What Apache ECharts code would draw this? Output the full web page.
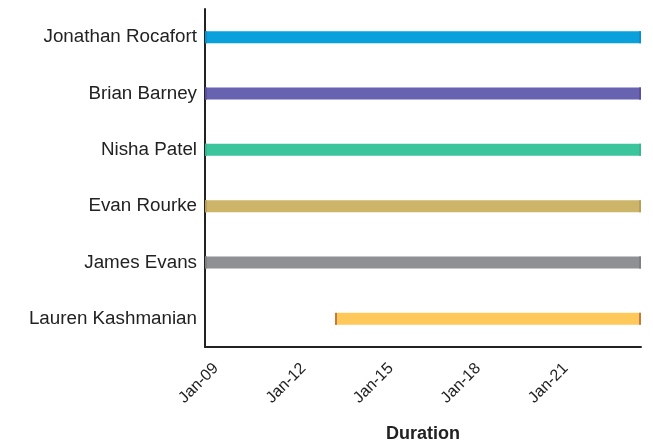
<!DOCTYPE html>
<html>
<head>
<meta charset="utf-8">
<script src="https://cdn.jsdelivr.net/npm/echarts@6/dist/echarts.min.js"></script>
<style>html,body{margin:0;padding:0;background:#fff;}#c{width:653px;height:443px;}</style>
</head>
<body>
<div id="c"></div>
<script>
const names = ['Jonathan Rocafort','Brian Barney','Nisha Patel','Evan Rourke','James Evans','Lauren Kashmanian'];
const startYears = [2009, 2009, 2009, 2009, 2009, 2013.46];
const endYears = [2023.96, 2023.96, 2023.96, 2023.96, 2023.96, 2023.96];
const colors = ['#0aa0dc','#6863b0','#3cc49c','#ccb468','#8f9094','#fec95a'];
const capColors = ['#0890c8','#5a4fa0','#38b690','#b89e58','#7e7f83','#c8783a'];
const tickYears = [2009, 2012, 2015, 2018, 2021];

const data = names.map((n, i) => ({value: [startYears[i], endYears[i], i], itemStyle: {color: colors[i]}}));

const chart = echarts.init(document.getElementById('c'), null, {renderer: 'canvas'});
chart.setOption({
  animation: false,
  grid: {left: 205, right: 12, top: 9, bottom: 96, outerBoundsMode: 'none', containLabel: false},
  xAxis: {
    type: 'value', min: 2009, max: 2023.96, interval: 3,
    axisLine: {show: true, lineStyle: {color: '#222', width: 2}},
    axisTick: {show: false},
    splitLine: {show: false},
    axisLabel: {
      rotate: 45, color: '#222', fontFamily: 'Liberation Sans', fontSize: 16, margin: 8,
      showMaxLabel: false,
      formatter: v => tickYears.includes(Math.round(v)) ? '{a|Jan-' + String(Math.round(v) % 100).padStart(2, '0') + '}' : '',
      rich: {a: {fontFamily: 'Liberation Sans', fontSize: 16, color: '#222', padding: [31, 0, 0, 0]}}
    },
    name: 'Duration', nameLocation: 'middle', nameGap: 78,
    nameTextStyle: {fontFamily: 'Liberation Sans', fontWeight: 'bold', fontSize: 18, color: '#222'}
  },
  yAxis: {
    type: 'category', data: names, inverse: true,
    axisLine: {show: true, lineStyle: {color: '#222', width: 2}},
    axisTick: {show: false},
    axisLabel: {color: '#222', fontFamily: 'Liberation Sans', fontSize: 18.8, margin: 8}
  },
  series: [{
    type: 'custom',
    encode: {x: [0, 1], y: 2},
    data: data,
    renderItem: function (params, api) {
      const idx = api.value(2);
      const p0 = api.coord([api.value(0), idx]);
      const p1 = api.coord([api.value(1), idx]);
      const h = 12;
      const color = colors[idx];
      const cap = capColors[idx];
      return {
        type: 'group',
        children: [
          {type: 'rect', shape: {x: p0[0], y: p0[1] - h / 2, width: p1[0] - p0[0], height: h}, style: {fill: color}},
          {type: 'rect', shape: {x: p0[0], y: p0[1] - h / 2, width: 2, height: h}, style: {fill: cap}},
          {type: 'rect', shape: {x: p1[0] - 2, y: p1[1] - h / 2, width: 2, height: h}, style: {fill: cap}}
        ]
      };
    }
  }]
});
</script>
</body>
</html>
